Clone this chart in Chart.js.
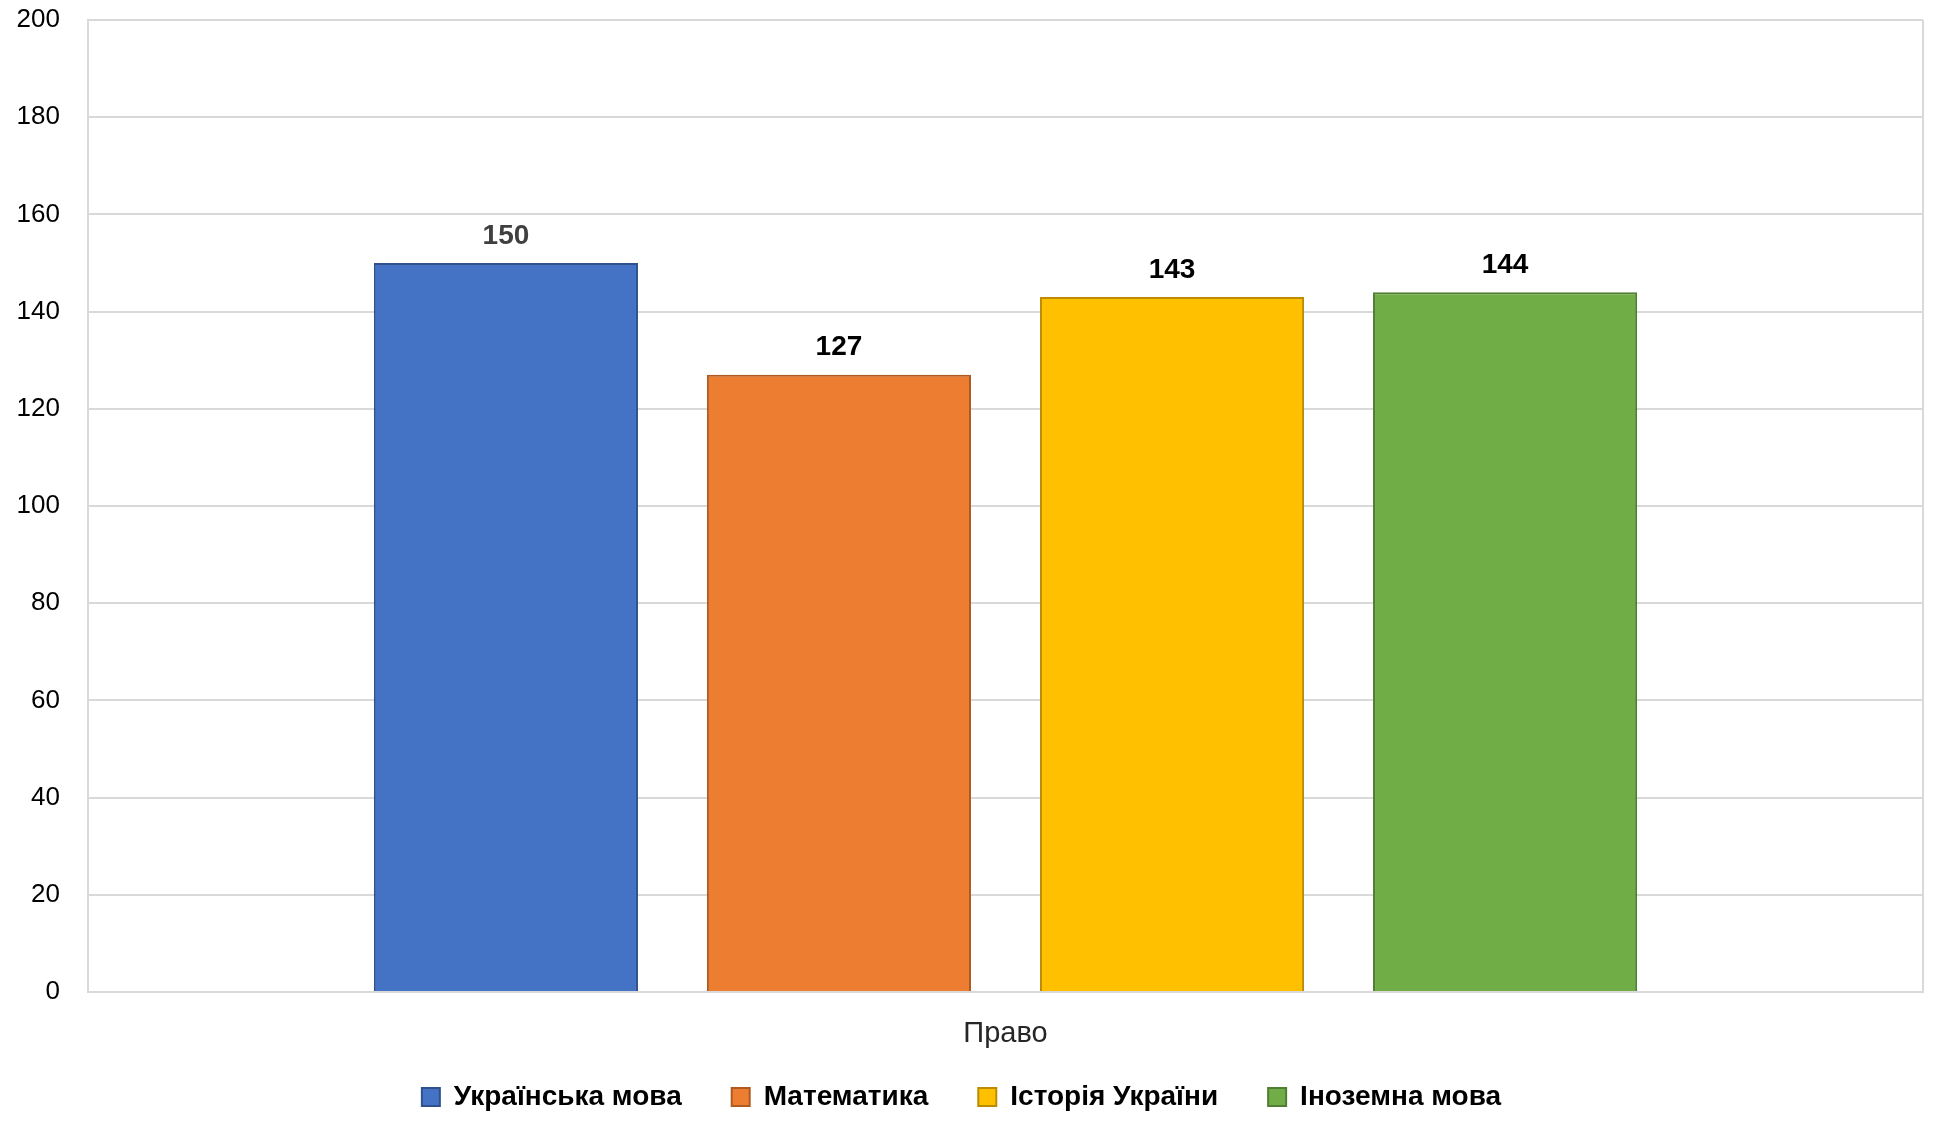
<!DOCTYPE html>
<html>
<head>
<meta charset="utf-8">
<script src="https://cdn.jsdelivr.net/npm/chart.js@4/dist/chart.umd.min.js"></script>
<style>
html,body{margin:0;padding:0;background:#fff;}
#wrap{width:1949px;height:1133px;}
</style>
</head>
<body>
<div id="wrap"><canvas id="c" width="1949" height="1133"></canvas></div>
<script>
const categories = ["Право"];
const seriesNames = ["Українська мова", "Математика", "Історія України", "Іноземна мова"];
const seriesValues = [[150], [127], [143], [144]];
const fillColors = ["#4472C4", "#ED7D31", "#FFC000", "#70AD47"];
const borderColors = ["#2F528F", "#AE5A21", "#BC8C00", "#507E32"];
const labelColors = ["#404040", "#000000", "#000000", "#000000"];
const yTicks = [0, 20, 40, 60, 80, 100, 120, 140, 160, 180, 200];

const FONT = "'Liberation Sans', Arial, sans-serif";

const valueLabels = {
  id: 'valueLabels',
  afterDatasetsDraw(chart) {
    const ctx = chart.ctx;
    ctx.save();
    ctx.font = "bold 28px " + FONT;
    ctx.textAlign = 'center';
    ctx.textBaseline = 'bottom';
    chart.data.datasets.forEach((ds, i) => {
      const meta = chart.getDatasetMeta(i);
      meta.data.forEach((bar, j) => {
        ctx.fillStyle = labelColors[i];
        ctx.fillText(String(ds.data[j]), bar.x, bar.y - 13);
      });
    });
    ctx.restore();
  }
};

new Chart(document.getElementById('c'), {
  type: 'bar',
  data: {
    labels: categories,
    datasets: seriesNames.map((n, i) => ({
      label: n,
      data: seriesValues[i],
      backgroundColor: fillColors[i],
      borderColor: borderColors[i],
      borderWidth: 2,
      categoryPercentage: 0.726,
      barPercentage: 0.793
    }))
  },
  options: {
    responsive: false,
    animation: false,
    layout: { padding: { left: 0, right: 26, top: 20, bottom: 12 } },
    plugins: {
      tooltip: { enabled: false },
      legend: {
        position: 'bottom',
        labels: {
          font: { family: FONT, size: 28, weight: 'bold' },
          color: '#000',
          boxWidth: 18,
          boxHeight: 18,
          padding: 50,
          generateLabels(chart) {
            return chart.data.datasets.map((ds, i) => ({
              text: ds.label,
              fillStyle: fillColors[i],
              strokeStyle: borderColors[i],
              lineWidth: 2,
              datasetIndex: i,
              fontColor: '#000'
            }));
          }
        }
      }
    },
    scales: {
      x: {
        offset: true,
        afterFit(scale) {
          scale.height = 41;
          scale._computeLabelArea = () => undefined;
        },
        grid: { display: true, color: '#D9D9D9', lineWidth: 2, drawTicks: false },
        border: { display: true, color: '#D9D9D9', width: 2 },
        ticks: { font: { family: FONT, size: 29 }, color: '#262626', padding: 25 }
      },
      y: {
        min: 0, max: 200,
        afterBuildTicks(scale) { scale.ticks = yTicks.map(v => ({ value: v })); },
        afterFit(scale) { scale.width = 88; scale.paddingTop = 0; scale.paddingBottom = 0; },
        grid: { color: '#D9D9D9', lineWidth: 2, drawTicks: false },
        border: { display: true, color: '#D9D9D9', width: 2 },
        ticks: { font: { family: FONT, size: 26 }, color: '#000', padding: 28 }
      }
    }
  },
  plugins: [valueLabels]
});
</script>
</body>
</html>
